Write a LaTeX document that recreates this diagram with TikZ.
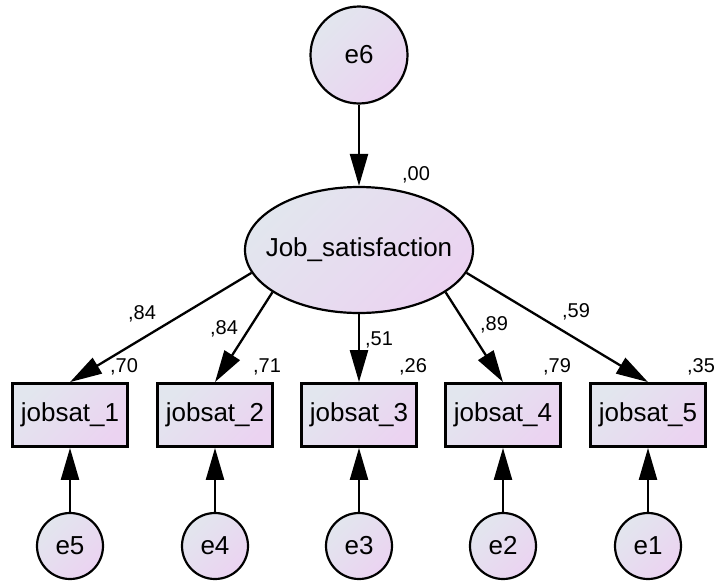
\documentclass[tikz,border=0pt]{standalone}
\usepackage{fontspec}
\setmainfont{Liberation Sans}
\usetikzlibrary{arrows.meta,shapes.geometric}

\definecolor{amosleft}{HTML}{E2E6EE}
\definecolor{amosright}{HTML}{EBD3F1}

\begin{document}
\begin{tikzpicture}[x=1pt,y=-1pt,
    amosfill/.style={left color=amosleft,right color=amosright,shading angle=45},
    latent/.style={ellipse,draw,line width=2.2pt,amosfill,inner sep=0pt,font=\fontsize{26}{26}\selectfont},
    observed/.style={rectangle,draw,line width=2.8pt,amosfill,inner sep=0pt,minimum width=115pt,minimum height=63pt,font=\fontsize{26}{26}\selectfont},
    coef/.style={anchor=base,inner sep=0pt,font=\fontsize{20}{20}\selectfont},
    regpath/.style={line width=2.3pt,-{Triangle[length=32pt,width=18pt]}}]
  \useasboundingbox (0,0) rectangle (717,581);
  % latent variable and its disturbance
  \node[latent,minimum size=97pt] (e6) at (359,55) {e6};
  \node[latent,minimum width=228pt,minimum height=126pt] (js) at (359,250) {\makebox[0pt]{Job\_satisfaction}};
  \draw[regpath] (e6) -- (js);
  \node[coef] (v0) at (416,180) {,00};
  % indicators
  \node[observed] (b1) at (70,415)  {jobsat\_1};  \node[observed] (b2) at (215,415) {jobsat\_2};
  \node[observed] (b3) at (359,415) {jobsat\_3};  \node[observed] (b4) at (503,415) {jobsat\_4};
  \node[observed] (b5) at (648,415) {jobsat\_5};
  \draw[regpath] (js.192) -- (b1.north); \draw[regpath] (js.206) -- (b2.north);
  \draw[regpath] (js.south) -- (b3.north);
  \draw[regpath] (js.334) -- (b4.north); \draw[regpath] (js.348) -- (b5.north);
  % loadings and squared multiple correlations
  \node[coef] (l1) at (142,319) {,84};  \node[coef] (l2) at (224,334) {,84};
  \node[coef] (l3) at (379,345) {,51};  \node[coef] (l4) at (494,330) {,89};
  \node[coef] (l5) at (576,317) {,59};
  \node[coef] (r1) at (124,372) {,70};  \node[coef] (r2) at (267,372) {,71};
  \node[coef] (r3) at (413,372) {,26};  \node[coef] (r4) at (557,372) {,79};
  \node[coef] (r5) at (701,372) {,35};
  % error terms
  \node[latent,minimum size=66pt] (e5) at (70,546)  {e5};  \node[latent,minimum size=66pt] (e4) at (215,546) {e4};
  \node[latent,minimum size=66pt] (e3) at (359,546) {e3};  \node[latent,minimum size=66pt] (e2) at (503,546) {e2};
  \node[latent,minimum size=66pt] (e1) at (648,546) {e1};
  \draw[regpath] (e5) -- (b1); \draw[regpath] (e4) -- (b2); \draw[regpath] (e3) -- (b3);
  \draw[regpath] (e2) -- (b4); \draw[regpath] (e1) -- (b5);
\end{tikzpicture}
\end{document}
